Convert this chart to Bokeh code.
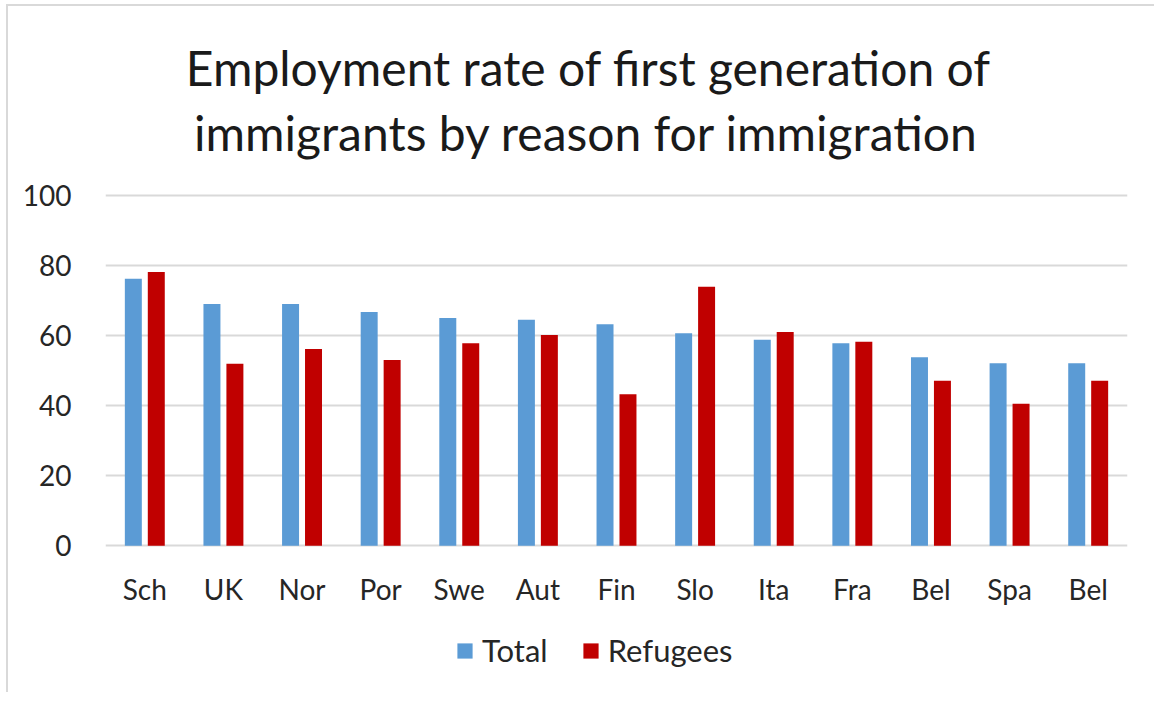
import numpy as np
from bokeh.plotting import figure
from bokeh.layouts import column
from bokeh.models import (Range1d, FixedTicker, Legend, LegendItem)
from bokeh.core.properties import value
from bokeh.embed import file_html
from bokeh.resources import INLINE

categories = ["Sch", "UK", "Nor", "Por", "Swe", "Aut", "Fin", "Slo", "Ita", "Fra", "Bel", "Spa", "Bel"]
total = [76.2, 69.0, 69.0, 66.7, 65.0, 64.5, 63.2, 60.6, 58.8, 57.8, 53.8, 52.1, 52.1]
refugees = [78.1, 51.9, 56.1, 53.0, 57.8, 60.1, 43.2, 73.9, 61.0, 58.2, 47.1, 40.5, 47.1]
y_ticks = [0, 20, 40, 60, 80, 100]
title_lines = ["Employment  rate of first generation of", "immigrants by reason for immigration"]
series_names = ["Total", "Refugees"]

FONT = "Lato"
TXT = "#262626"
BLUE = "#5B9BD5"
RED = "#C00000"
W = 1146
B_LEFT, B_RIGHT = 97, 27


def blank(fig, top=0, bottom=0):
    fig.grid.visible = False
    fig.outline_line_color = None
    fig.background_fill_color = "white"
    fig.border_fill_color = "white"
    fig.min_border_left = B_LEFT
    fig.min_border_right = B_RIGHT
    fig.min_border_top = top
    fig.min_border_bottom = bottom


# ---- title panel (x in content pixels) ----
T_H = 167
pt = figure(width=W, height=T_H, output_backend="svg", toolbar_location=None,
            x_range=Range1d(B_LEFT, W - B_RIGHT), y_range=Range1d(T_H, 0),
            x_axis_location=None, y_axis_location=None, title_location=None)
blank(pt)
pt.text(x=[586, 578], y=[61, 126], text=title_lines, text_align="center",
        text_baseline="alphabetic", text_font=value(FONT), text_font_size="48px",
        text_color="#1a1a1a")

# ---- main chart ----
M_H = 450
xpos = np.arange(len(categories)) + 0.5
p = figure(width=W, height=M_H, output_backend="svg", toolbar_location=None,
           x_range=Range1d(0, len(categories)), y_range=Range1d(-0.5, 100.5),
           min_border_left=B_LEFT, min_border_right=B_RIGHT, min_border_bottom=76,
           min_border_top=20, title_location=None)
p.outline_line_color = None
p.background_fill_color = "white"
p.border_fill_color = "white"

r1 = p.vbar(x=xpos - 0.146, top=total, width=0.216, fill_color=BLUE, line_color=None)
r2 = p.vbar(x=xpos + 0.146, top=refugees, width=0.216, fill_color=RED, line_color=None)

p.xaxis.ticker = FixedTicker(ticks=list(xpos))
p.xaxis.major_label_overrides = {float(x): c for x, c in zip(xpos, categories)}
p.yaxis.ticker = FixedTicker(ticks=y_ticks)
for ax in (p.xaxis[0], p.yaxis[0]):
    ax.axis_line_color = None
    ax.major_tick_line_color = None
    ax.minor_tick_line_color = None
    ax.major_tick_out = 0
    ax.major_tick_in = 0
    ax.minor_tick_out = 0
    ax.minor_tick_in = 0
    ax.major_label_text_font = FONT
    ax.major_label_text_font_size = "28px"
    ax.major_label_text_color = TXT
p.yaxis.major_label_standoff = 34
p.xaxis.major_label_standoff = 24

p.xgrid.grid_line_color = None
p.ygrid.grid_line_color = "#d9d9d9"
p.ygrid.grid_line_width = 2

# ---- legend panel ----
L_H = 69
pl = figure(width=W, height=L_H, output_backend="svg", toolbar_location=None,
            x_range=Range1d(0, 1), y_range=Range1d(0, 1),
            x_axis_location=None, y_axis_location=None, title_location=None)
blank(pl, bottom=16)
# legend swatches only (zero-height bars, nothing drawn in the panel)
d1 = pl.vbar(x=[0.5], top=[0], width=0.1, fill_color=BLUE, line_color=None)
d2 = pl.vbar(x=[0.5], top=[0], width=0.1, fill_color=RED, line_color=None)
legend = Legend(items=[LegendItem(label=series_names[0], renderers=[d1]),
                       LegendItem(label=series_names[1], renderers=[d2])],
                orientation="horizontal", location=(350, 7))
legend.label_text_font = FONT
legend.label_text_font_size = "31px"
legend.label_text_color = TXT
legend.glyph_width = 19
legend.glyph_height = 19
legend.label_standoff = 8
legend.spacing = 33
legend.padding = 0
legend.margin = 0
legend.border_line_color = None
legend.background_fill_alpha = 0
pl.add_layout(legend, "center")

layout = column(pt, p, pl, spacing=0,
                styles={"margin-left": "6px", "margin-top": "4px",
                        "border-left": "2px solid #d9d9d9", "border-top": "2px solid #d9d9d9"})

open("out.html", "w").write(file_html(layout, INLINE))
